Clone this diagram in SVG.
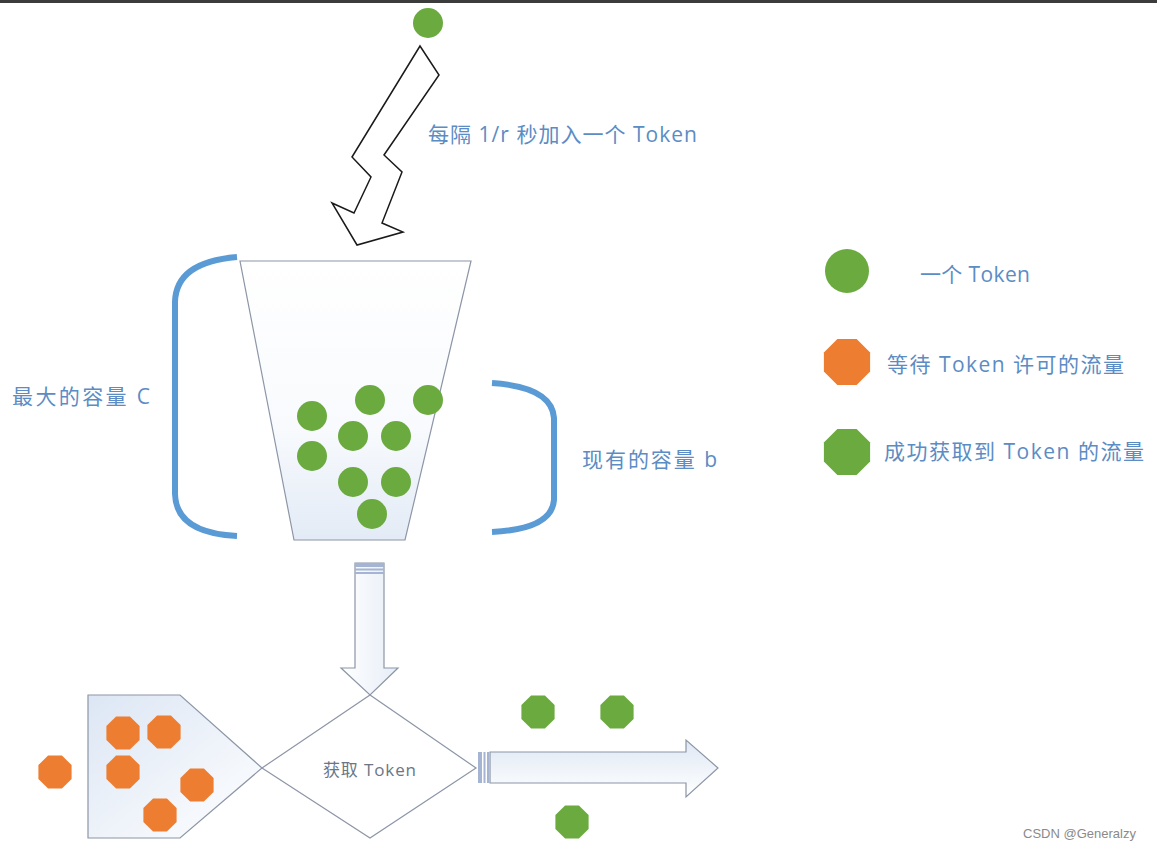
<svg xmlns="http://www.w3.org/2000/svg" width="1157" height="851" viewBox="0 0 1157 851">
<style>
.lbl{font-family:"Open Sans","Noto Sans CJK SC",sans-serif;fill:#5b8cc4;font-size:21px}
.mid{font-family:"Open Sans","Noto Sans CJK SC",sans-serif;fill:#6b7686;font-size:17px}
.wm{font-family:"Liberation Sans",Arial,sans-serif;fill:#8a8a8a;font-size:13px}
.tok{fill:#6aaa3f}
.org{fill:#ed7d31}
.grn{fill:#6aaa3f}
.brk{fill:none;stroke:#5b9bd5;stroke-width:6;stroke-linecap:butt}
.shape{stroke:#8c96a6;stroke-width:1.2}
.stripe{fill:#a4b4d2}
</style>
<defs>
<linearGradient id="gBucket" x1="0" y1="0" x2="0" y2="1">
<stop offset="0" stop-color="#ffffff"/>
<stop offset="0.6" stop-color="#f8fafd"/>
<stop offset="1" stop-color="#e3ebf6"/>
</linearGradient>
<linearGradient id="gPent" x1="0" y1="0" x2="1" y2="1">
<stop offset="0" stop-color="#dce6f4"/>
<stop offset="1" stop-color="#ffffff"/>
</linearGradient>
<linearGradient id="gArrR" x1="0" y1="0" x2="0" y2="1">
<stop offset="0" stop-color="#dfe8f4"/>
<stop offset="1" stop-color="#ffffff"/>
</linearGradient>
<linearGradient id="gArrD" x1="0" y1="0" x2="1" y2="0">
<stop offset="0" stop-color="#ffffff"/>
<stop offset="1" stop-color="#e6edf7"/>
</linearGradient>
<polygon id="octS" points="6.9,-16.6 16.6,-6.9 16.6,6.9 6.9,16.6 -6.9,16.6 -16.6,6.9 -16.6,-6.9 -6.9,-16.6"/>
<polygon id="octL" points="9.6,-23.1 23.1,-9.6 23.1,9.6 9.6,23.1 -9.6,23.1 -23.1,9.6 -23.1,-9.6 -9.6,-23.1"/>
</defs>
<rect x="0" y="0" width="1157" height="851" fill="#ffffff"/>
<rect x="0" y="0" width="1157" height="3" fill="#3c3c3c"/>

<g id="falling-token">
<circle class="tok" cx="428" cy="23" r="15"/>
</g>

<g id="connectors">
<polygon id="lightning" points="420,46 439,75 384,155 402,172 382,223 403,232 357,245 332,203 354,213 371,177 352,157" fill="#ffffff" stroke="#1a1a1a" stroke-width="1.5" stroke-linejoin="miter"/>
<g id="down-arrow">
<polygon class="shape" points="355,563 384,563 384,668 398,668 370,695 341,668 355,668" fill="url(#gArrD)"/>
<rect class="stripe" x="355" y="563" width="29" height="4"/>
<rect class="stripe" x="355" y="568.5" width="29" height="2"/>
<rect class="stripe" x="355" y="572" width="29" height="2"/>
</g>
<g id="right-arrow">
<polygon class="shape" points="490,752 686,752 686,740 718,768 686,797 686,783 490,783" fill="url(#gArrR)"/>
<rect class="stripe" x="478" y="752" width="4" height="31"/>
<rect class="stripe" x="483.5" y="752" width="2" height="31"/>
<rect class="stripe" x="487" y="752" width="2" height="31"/>
</g>
</g>

<g id="label-add">
<text class="lbl" x="428" y="142" textLength="269" lengthAdjust="spacing">每隔 1/r 秒加入一个 Token</text>
</g>

<g id="bucket">
<polygon points="240,261 471,261 405,540 294,540" fill="url(#gBucket)" stroke="#8c96a6" stroke-width="1.2"/>
<circle class="tok" cx="312" cy="416" r="15"/>
<circle class="tok" cx="370" cy="400" r="15"/>
<circle class="tok" cx="428" cy="400" r="15"/>
<circle class="tok" cx="353" cy="436" r="15"/>
<circle class="tok" cx="396" cy="436" r="15"/>
<circle class="tok" cx="312" cy="456" r="15"/>
<circle class="tok" cx="353" cy="482" r="15"/>
<circle class="tok" cx="396" cy="482" r="15"/>
<circle class="tok" cx="372" cy="514" r="15"/>
</g>

<g id="max-capacity">
<path class="brk" d="M237,257 Q176,262 175,302 L175,494 Q176,533 237,536"/>
<text class="lbl" x="12" y="404" textLength="138" lengthAdjust="spacing">最大的容量 C</text>
</g>

<g id="current-capacity">
<path class="brk" d="M492,383 Q552,387 554,418 L554,500 Q552,529 492,532"/>
<text class="lbl" x="582" y="467" textLength="135" lengthAdjust="spacing">现有的容量 b</text>
</g>

<g id="legend">
<circle class="tok" cx="847" cy="271" r="22"/>
<text class="lbl" x="920" y="282" textLength="110" lengthAdjust="spacing">一个 Token</text>
<use href="#octL" class="org" x="847" y="362"/>
<text class="lbl" x="887" y="372" textLength="237" lengthAdjust="spacing">等待 Token 许可的流量</text>
<use href="#octL" class="grn" x="847" y="452"/>
<text class="lbl" x="884" y="459" textLength="260" lengthAdjust="spacing">成功获取到 Token 的流量</text>
</g>

<g id="queue">
<polygon class="shape" points="88,695 180,695 262,768 180,838 88,838" fill="url(#gPent)"/>
<use href="#octS" class="org" x="123" y="733"/>
<use href="#octS" class="org" x="164" y="732"/>
<use href="#octS" class="org" x="123" y="772"/>
<use href="#octS" class="org" x="197" y="785"/>
<use href="#octS" class="org" x="160" y="815"/>
</g>

<g id="incoming">
<use href="#octS" class="org" x="55" y="772"/>
</g>

<g id="decision">
<polygon class="shape" points="262,768 370,695 476,768 370,838" fill="#ffffff" fill-opacity="0.85"/>
<text class="mid" x="323" y="776" textLength="93" lengthAdjust="spacing">获取 Token</text>
</g>

<g id="passed">
<use href="#octS" class="grn" x="538" y="712"/>
<use href="#octS" class="grn" x="617" y="712"/>
<use href="#octS" class="grn" x="572" y="822"/>
</g>

<text class="wm" x="1023" y="838">CSDN @Generalzy</text>
</svg>
